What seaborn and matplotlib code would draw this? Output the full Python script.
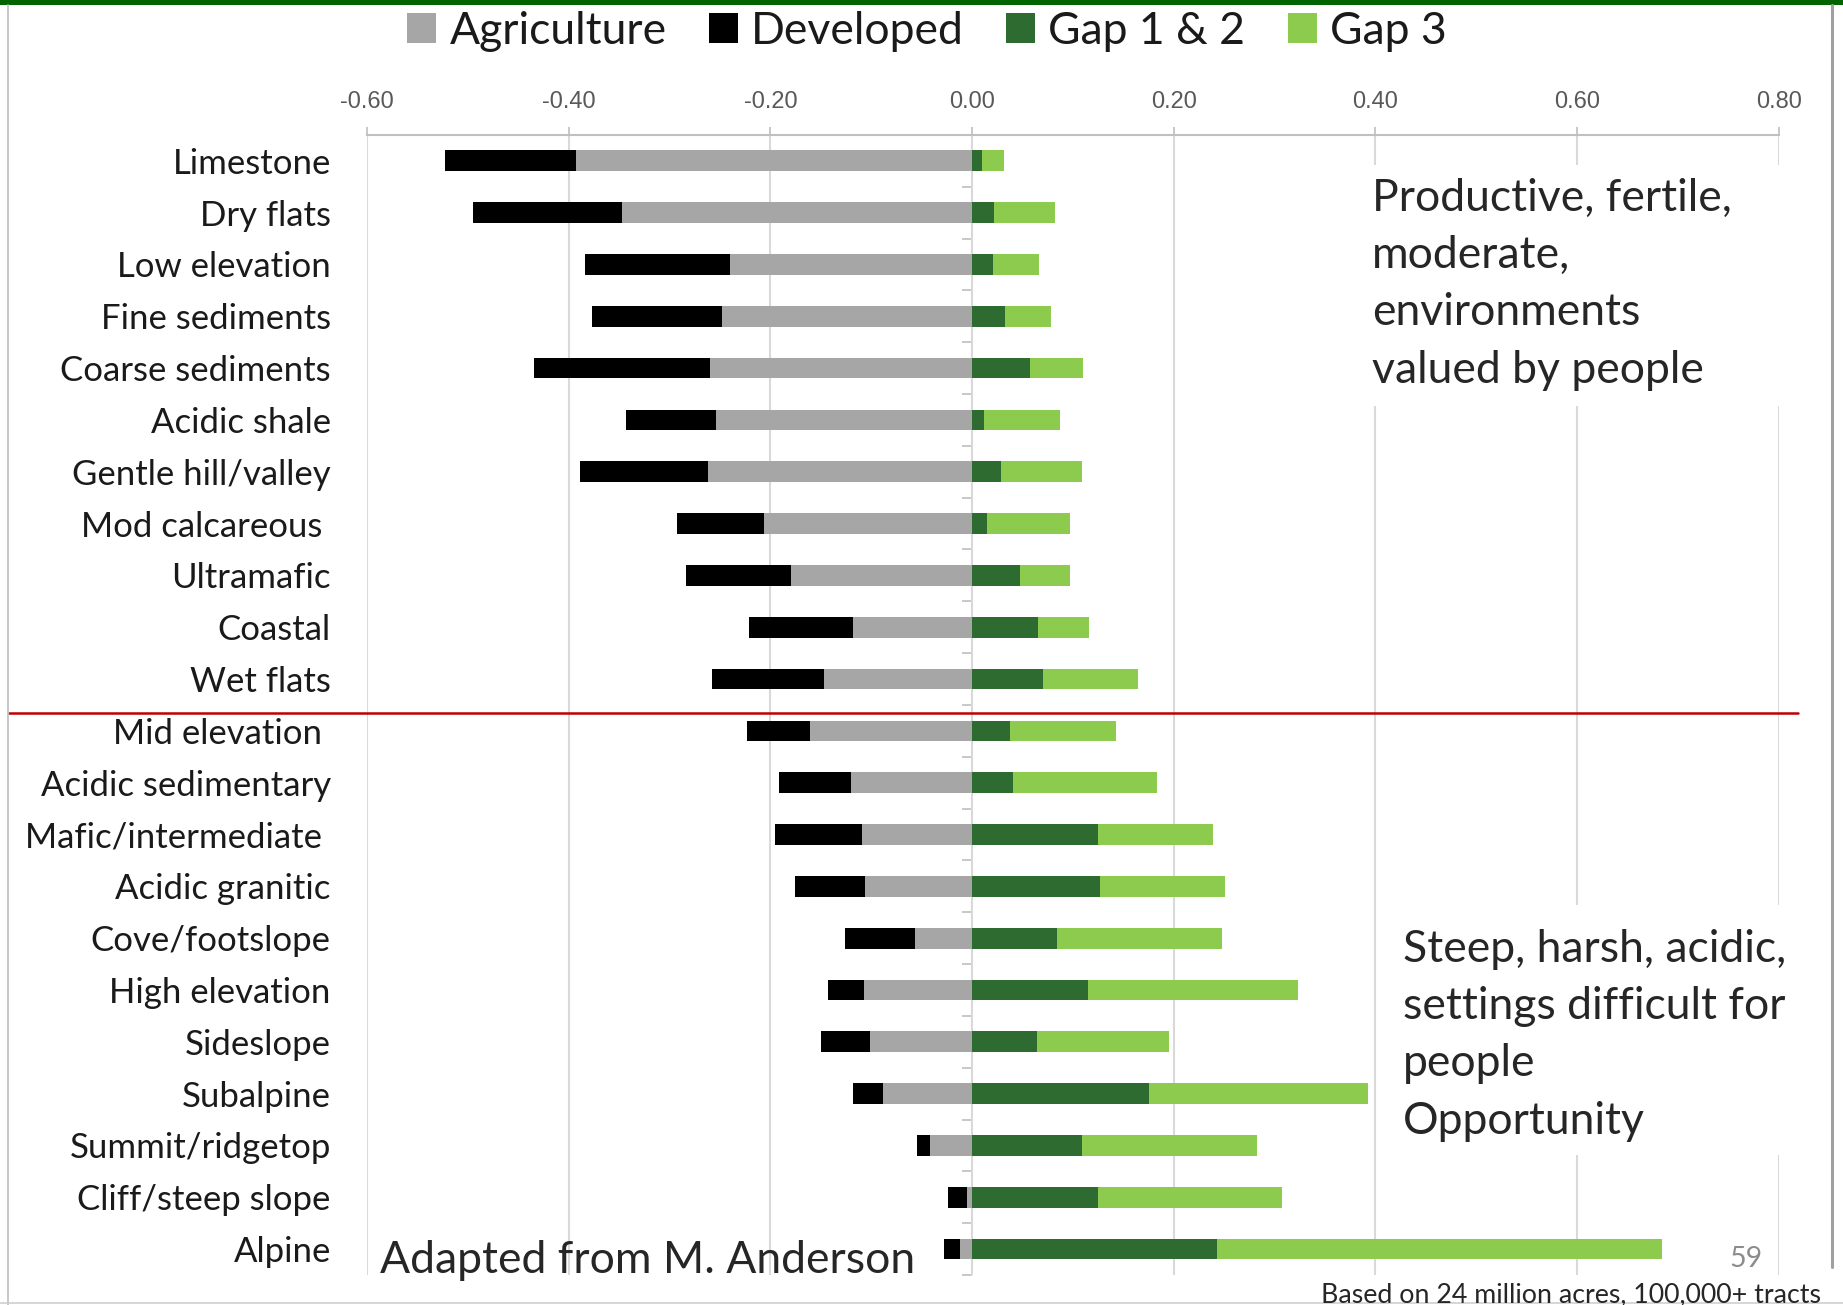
import matplotlib.pyplot as plt
import numpy as np
import pandas as pd
import seaborn as sns
from matplotlib.lines import Line2D
from matplotlib.patches import Patch, Rectangle

# Landform settings: upper block is "valued by people", lower block is harsh terrain
upper_group = ["Limestone", "Dry flats", "Low elevation", "Fine sediments",
               "Coarse sediments", "Acidic shale", "Gentle hill/valley",
               "Mod calcareous ", "Ultramafic", "Coastal", "Wet flats"]
lower_group = ["Mid elevation ", "Acidic sedimentary", "Mafic/intermediate ",
               "Acidic granitic", "Cove/footslope", "High elevation", "Sideslope",
               "Subalpine", "Summit/ridgetop", "Cliff/steep slope", "Alpine"]

# proportions converted (negative) and secured (positive)
agriculture = [-0.393, -0.347, -0.240, -0.248, -0.260, -0.254, -0.262, -0.206, -0.180,
               -0.118, -0.147, -0.161, -0.120, -0.109, -0.106, -0.057, -0.107, -0.101,
               -0.088, -0.042, -0.005, -0.012]
developed = [-0.130, -0.148, -0.144, -0.129, -0.174, -0.089, -0.127, -0.087, -0.104,
             -0.103, -0.111, -0.062, -0.071, -0.086, -0.070, -0.069, -0.036, -0.049,
             -0.030, -0.013, -0.019, -0.016]
gap12 = [0.010, 0.022, 0.021, 0.033, 0.057, 0.012, 0.029, 0.015, 0.048, 0.065, 0.070,
         0.038, 0.041, 0.125, 0.127, 0.084, 0.115, 0.064, 0.175, 0.109, 0.125, 0.243]
gap3 = [0.022, 0.060, 0.045, 0.045, 0.053, 0.075, 0.080, 0.082, 0.049, 0.051, 0.095,
        0.105, 0.142, 0.114, 0.124, 0.164, 0.208, 0.131, 0.218, 0.174, 0.182, 0.441]

x_ticks = [-0.60, -0.40, -0.20, 0.00, 0.20, 0.40, 0.60, 0.80]

colors = {"Agriculture": "#A6A6A6", "Developed": "#000000",
          "Gap 1 & 2": "#2E6B30", "Gap 3": "#8DCB4E"}

df = pd.DataFrame({
    "setting": upper_group + lower_group,
    "agriculture": agriculture,
    "developed": developed,
    "gap12": gap12,
    "gap3": gap3,
})
# stacked bars: draw the running totals, longest first
df["neg_total"] = df["agriculture"] + df["developed"]
df["pos_total"] = df["gap12"] + df["gap3"]

sns.set_style("white")
plt.rcParams["font.family"] = ["Lato", "DejaVu Sans"]

fig = plt.figure(figsize=(18.43, 13.05), dpi=100)
ax = fig.add_axes([0.1991, 0.0230, 0.7661, 0.8736])

bar_kw = dict(data=df, y="setting", orient="h", width=0.4, saturation=1,
              linewidth=0, errorbar=None, ax=ax)
sns.barplot(x="neg_total", color=colors["Developed"], **bar_kw)
sns.barplot(x="agriculture", color=colors["Agriculture"], **bar_kw)
sns.barplot(x="pos_total", color=colors["Gap 3"], **bar_kw)
sns.barplot(x="gap12", color=colors["Gap 1 & 2"], **bar_kw)

n = len(df)
ax.set_xlim(x_ticks[0], x_ticks[-1])
ax.set_ylim(n - 0.5, -0.5)
ax.set_xlabel("")
ax.set_ylabel("")

# value axis on top, Excel style
ax.xaxis.tick_top()
ax.set_xticks(x_ticks)
ax.set_xticklabels([f"{t:.2f}" for t in x_ticks], fontfamily="Liberation Sans",
                   fontsize=17, color="#595959")
ax.tick_params(axis="x", direction="out", length=6, width=1.2, color="#BFBFBF", pad=10)
ax.tick_params(axis="y", length=0, pad=26, labelsize=25, labelcolor="#1A1A1A")
ax.grid(axis="x", color="#D9D9D9", linewidth=1.5)
ax.grid(axis="y", visible=False)
ax.set_axisbelow(True)
for side in ["left", "right", "bottom"]:
    ax.spines[side].set_visible(False)
ax.spines["top"].set_color("#BFBFBF")
ax.spines["top"].set_linewidth(1.5)

# category axis sits at zero with small ticks between categories
ax.axvline(0, color="#BFBFBF", linewidth=1.2, zorder=0.5)
ax.plot(np.zeros(n + 1), np.arange(n + 1) - 0.5, ls="none", marker=0, ms=7,
        mew=1.2, color="#BFBFBF", zorder=0.5, clip_on=False)

# red divider between the two groups
ax.axhline(len(upper_group) - 0.35, xmin=-0.2535, xmax=1.0135, color="#C00000",
           linewidth=1.8, clip_on=False, zorder=5)

handles = [Patch(facecolor=c, edgecolor="none", label=k) for k, c in colors.items()]
fig.legend(handles=handles, loc="center", bbox_to_anchor=(0.503, 0.976), ncol=4,
           frameon=False, fontsize=32, handlelength=0.65, handleheight=0.65,
           handletextpad=0.3, columnspacing=0.95, labelcolor="#1A1A1A")

# white boxes behind the annotations hide the gridlines
fig.add_artist(Rectangle((0.7395, 0.6889), 0.2344, 0.1847, transform=fig.transFigure,
                         facecolor="white", edgecolor="none", zorder=1))
fig.add_artist(Rectangle((0.7558, 0.1149), 0.2210, 0.1916, transform=fig.transFigure,
                         facecolor="white", edgecolor="none", zorder=1))

fig.text(0.7445, 0.8635, "Productive, fertile,\nmoderate,\nenvironments\nvalued by people",
         fontsize=32, va="top", ha="left", linespacing=1.49, zorder=3)
fig.text(0.7613, 0.2880, "Steep, harsh, acidic,\nsettings difficult for\npeople\nOpportunity",
         fontsize=32, va="top", ha="left", linespacing=1.49, zorder=3)
fig.text(0.206, 0.0245, "Adapted from M. Anderson", fontsize=32, va="baseline",
         ha="left", zorder=3)
fig.text(0.9565, 0.029, "59", fontsize=20.5, color="#8C8C8C", va="baseline", ha="right")
fig.text(0.7168, 0.0018, "Based on 24 million acres, 100,000+ tracts", fontsize=19.3,
         va="baseline", ha="left")

# slide frame: green top bar and thin grey borders
fig.add_artist(Rectangle((0, 0.9962), 1, 0.0038, transform=fig.transFigure,
                         facecolor="#006400", edgecolor="none"))
fig.add_artist(Line2D([0.0045, 0.0045], [0, 0.996], transform=fig.transFigure,
                      color="#BDBDBD", linewidth=1.2))
fig.add_artist(Line2D([0.9942, 0.9942], [0.029, 0.996], transform=fig.transFigure,
                      color="#A0A0A0", linewidth=2.2))
fig.add_artist(Line2D([0, 1], [0.0012, 0.0012], transform=fig.transFigure,
                      color="#D0D0D0", linewidth=1.2))

fig.savefig("out.png", dpi=100, facecolor="white")
